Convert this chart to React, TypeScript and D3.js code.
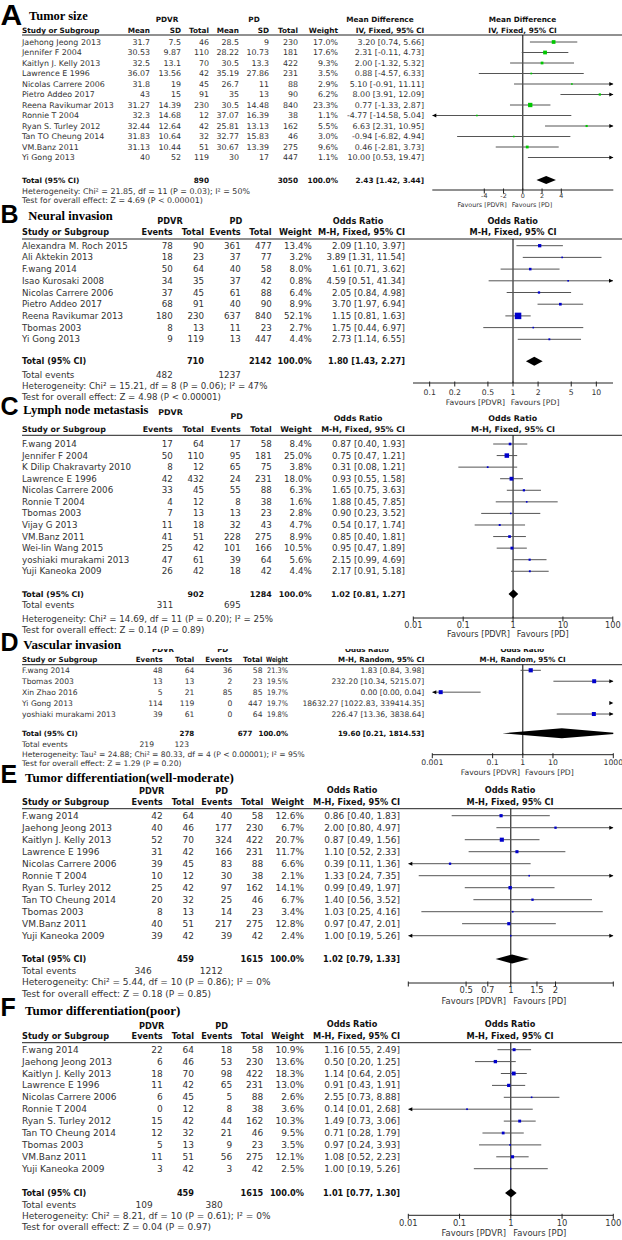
import React from 'react';
import * as d3 from 'd3';

const FONT = "'DejaVu Sans', Verdana, sans-serif";
const SERIF = "'Liberation Serif', 'Times New Roman', serif";
const HEAVY = "'Liberation Sans', Arial, sans-serif";

// ---------------- A: Tumor size (Mean Difference) ----------------
const studiesA = ['Jaehong Jeong 2013', 'Jennifer F 2004', 'Kaitlyn J. Kelly 2013', 'Lawrence E 1996', 'Nicolas Carrere 2006', 'Pietro Addeo 2017', 'Reena Ravikumar 2013', 'Ronnie T 2004', 'Ryan S. Turley 2012', 'Tan TO Cheung 2014', 'VM.Banz 2011', 'Yi Gong 2013'];
const pdvrMeanA = [31.7, 30.53, 32.5, 36.07, 31.8, 43, 31.27, 32.3, 32.44, 31.83, 31.13, 40];
const pdvrSdA = [7.5, 9.87, 13.1, 13.56, 19, 15, 14.39, 14.68, 12.64, 10.64, 10.44, 52];
const pdvrTotalA = [46, 110, 70, 42, 45, 91, 230, 12, 42, 32, 51, 119];
const pdMeanA = [28.5, 28.22, 30.5, 35.19, 26.7, 35, 30.5, 37.07, 25.81, 32.77, 30.67, 30];
const pdSdA = [9, 10.73, 13.3, 27.86, 11, 13, 14.48, 16.39, 13.13, 15.83, 13.39, 17];
const pdTotalA = [230, 181, 422, 231, 88, 90, 840, 38, 162, 46, 275, 447];
const weightA = [17.0, 17.6, 9.3, 3.5, 2.9, 6.2, 23.3, 1.1, 5.5, 3.0, 9.6, 1.1];
const estA = [3.2, 2.31, 2.0, 0.88, 5.1, 8.0, 0.77, -4.77, 6.63, -0.94, 0.46, 10.0];
const loA = [0.74, -0.11, -1.32, -4.57, -0.91, 3.91, -1.33, -14.58, 2.31, -6.82, -2.81, 0.53];
const hiA = [5.66, 4.73, 5.32, 6.33, 11.11, 12.09, 2.87, 5.04, 10.95, 4.94, 3.73, 19.47];
const totalA = [890, 3050];
const pooledA = [2.43, 1.42, 3.44];
const ticksA = [-4, -2, 0, 2, 4];

// ---------------- B: Neural invasion ----------------
const studiesB = ['Alexandra M. Roch 2015', 'Ali Aktekin 2013', 'F.wang 2014', 'Isao Kurosaki 2008', 'Nicolas Carrere 2006', 'Pietro Addeo 2017', 'Reena Ravikumar 2013', 'Tbomas 2003', 'Yi Gong 2013'];
const pdvrEventsB = [78, 18, 50, 34, 37, 68, 180, 8, 9];
const pdvrTotalB = [90, 23, 64, 35, 45, 91, 230, 13, 119];
const pdEventsB = [361, 37, 40, 37, 61, 40, 637, 11, 13];
const pdTotalB = [477, 77, 58, 42, 88, 90, 840, 23, 447];
const weightB = [13.4, 3.2, 8.0, 0.8, 6.4, 8.9, 52.1, 2.7, 4.4];
const estB = [2.09, 3.89, 1.61, 4.59, 2.05, 3.7, 1.15, 1.75, 2.73];
const loB = [1.1, 1.31, 0.71, 0.51, 0.84, 1.97, 0.81, 0.44, 1.14];
const hiB = [3.97, 11.54, 3.62, 41.34, 4.98, 6.94, 1.63, 6.97, 6.55];
const totalB = [710, 2142];
const eventsB = [482, 1237];
const pooledB = [1.8, 1.43, 2.27];
const ticksB = [0.1, 0.2, 0.5, 1, 2, 5, 10];

// ---------------- C: Lymph node metastasis ----------------
const studiesC = ['F.wang 2014', 'Jennifer F 2004', 'K Dilip Chakravarty 2010', 'Lawrence E 1996', 'Nicolas Carrere 2006', 'Ronnie T 2004', 'Tbomas 2003', 'Vijay G 2013', 'VM.Banz 2011', 'Wei-lin Wang 2015', 'yoshiaki murakami 2013', 'Yuji Kaneoka 2009'];
const pdvrEventsC = [17, 50, 8, 42, 33, 4, 7, 11, 41, 25, 47, 26];
const pdvrTotalC = [64, 110, 12, 432, 45, 12, 13, 18, 51, 42, 61, 42];
const pdEventsC = [17, 95, 65, 24, 55, 8, 13, 32, 228, 101, 39, 18];
const pdTotalC = [58, 181, 75, 231, 88, 38, 23, 43, 275, 166, 64, 42];
const weightC = [8.4, 25.0, 3.8, 18.0, 6.3, 1.6, 2.8, 4.7, 8.9, 10.5, 5.6, 4.4];
const estC = [0.87, 0.75, 0.31, 0.93, 1.65, 1.88, 0.9, 0.54, 0.85, 0.95, 2.15, 2.17];
const loC = [0.4, 0.47, 0.08, 0.55, 0.75, 0.45, 0.23, 0.17, 0.4, 0.47, 0.99, 0.91];
const hiC = [1.93, 1.21, 1.21, 1.58, 3.63, 7.85, 3.52, 1.74, 1.81, 1.89, 4.69, 5.18];
const totalC = [902, 1284];
const eventsC = [311, 695];
const pooledC = [1.02, 0.81, 1.27];
const ticksC = [0.01, 0.1, 1, 10, 100];

// ---------------- D: Vascular invasion ----------------
const studiesD = ['F.wang 2014', 'Tbomas 2003', 'Xin Zhao 2016', 'Yi Gong 2013', 'yoshiaki murakami 2013'];
const pdvrEventsD = [48, 13, 5, 114, 39];
const pdvrTotalD = [64, 13, 21, 119, 61];
const pdEventsD = [36, 2, 85, 0, 0];
const pdTotalD = [58, 23, 85, 447, 64];
const weightD = [21.3, 19.5, 19.7, 19.7, 19.8];
const estD = [1.83, 232.2, 0.0019, 18632.27, 226.47];
const loD = [0.84, 10.34, 0.0001, 1022.83, 13.36];
const hiD = [3.98, 5215.07, 0.04, 339414.35, 3838.64];
const totalD = [278, 677];
const eventsD = [219, 123];
const pooledD = [19.6, 0.21, 1814.53];
const ticksD = [0.001, 0.1, 1, 10, 1000];

// ---------------- E: Tumor differentiation (well-moderate) ----------------
const studiesE = ['F.wang 2014', 'Jaehong Jeong 2013', 'Kaitlyn J. Kelly 2013', 'Lawrence E 1996', 'Nicolas Carrere 2006', 'Ronnie T 2004', 'Ryan S. Turley 2012', 'Tan TO Cheung 2014', 'Tbomas 2003', 'VM.Banz 2011', 'Yuji Kaneoka 2009'];
const pdvrEventsE = [42, 40, 52, 31, 39, 10, 25, 20, 8, 40, 39];
const pdvrTotalE = [64, 46, 70, 42, 45, 12, 42, 32, 13, 51, 42];
const pdEventsE = [40, 177, 324, 166, 83, 30, 97, 25, 14, 217, 39];
const pdTotalE = [58, 230, 422, 231, 88, 38, 162, 46, 23, 275, 42];
const weightE = [12.6, 6.7, 20.7, 11.7, 6.6, 2.1, 14.1, 6.7, 3.4, 12.8, 2.4];
const estE = [0.86, 2.0, 0.87, 1.1, 0.39, 1.33, 0.99, 1.4, 1.03, 0.97, 1.0];
const loE = [0.4, 0.8, 0.49, 0.52, 0.11, 0.24, 0.49, 0.56, 0.25, 0.47, 0.19];
const hiE = [1.83, 4.97, 1.56, 2.33, 1.36, 7.35, 1.97, 3.52, 4.16, 2.01, 5.26];
const totalE = [459, 1615];
const eventsE = [346, 1212];
const pooledE = [1.02, 0.79, 1.33];
const ticksE = [0.5, 0.7, 1, 1.5, 2];

// ---------------- F: Tumor differentiation (poor) ----------------
const studiesF = ['F.wang 2014', 'Jaehong Jeong 2013', 'Kaitlyn J. Kelly 2013', 'Lawrence E 1996', 'Nicolas Carrere 2006', 'Ronnie T 2004', 'Ryan S. Turley 2012', 'Tan TO Cheung 2014', 'Tbomas 2003', 'VM.Banz 2011', 'Yuji Kaneoka 2009'];
const pdvrEventsF = [22, 6, 18, 11, 6, 0, 15, 12, 5, 11, 3];
const pdvrTotalF = [64, 46, 70, 42, 45, 12, 42, 32, 13, 51, 42];
const pdEventsF = [18, 53, 98, 65, 5, 8, 44, 21, 9, 56, 3];
const pdTotalF = [58, 230, 422, 231, 88, 38, 162, 46, 23, 275, 42];
const weightF = [10.9, 13.6, 18.3, 13.0, 2.6, 3.6, 10.3, 9.5, 3.5, 12.1, 2.5];
const estF = [1.16, 0.5, 1.14, 0.91, 2.55, 0.14, 1.49, 0.71, 0.97, 1.08, 1.0];
const loF = [0.55, 0.2, 0.64, 0.43, 0.73, 0.01, 0.73, 0.28, 0.24, 0.52, 0.19];
const hiF = [2.49, 1.25, 2.05, 1.91, 8.88, 2.68, 3.06, 1.79, 3.93, 2.23, 5.26];
const totalF = [459, 1615];
const eventsF = [109, 380];
const pooledF = [1.01, 0.77, 1.3];
const ticksF = [0.01, 0.1, 1, 10, 100];

type Anchor = 'start' | 'middle' | 'end';
type Lbl = [string, number, number, Anchor];
type ColLbl = [string, number, Anchor, number?];

interface Cfg {
  letter: string; letterSize: number; letterY: number;
  title: string; titleX: number; titleY: number; titleSize: number;
  fs: number; fb: number; afs: number;
  groups: Lbl[]; groupClip?: number;
  colY: number; cols: ColLbl[];
  lineY: number; rowY0: number; rowStep: number;
  names: string[]; cells: number[][]; cellX: number[];
  weights: number[]; weightX: number; weightLen?: number; ciX: number;
  est: number[]; lo: number[]; hi: number[];
  totalY: number; totals: number[]; totalX: number[]; pooled: number[];
  eventsY?: number; events?: number[]; eventsX?: number[];
  hetY: number; het: string; testY: number; test: string;
  log: boolean; domain: [number, number]; range: [number, number];
  ticks: number[]; endTicks?: boolean;
  axisY: number; tickY: number; favY: number; favL: number; favR: number;
  color: string; dh: number;
}

const f2 = (v: number) => v.toFixed(2);
const ciText = (e: number, l: number, h: number) => `${f2(e)} [${f2(l)}, ${f2(h)}]`;

function Panel({ c }: { c: Cfg }) {
  const scale: any = c.log
    ? d3.scaleLog().domain(c.domain).range(c.range)
    : d3.scaleLinear().domain(c.domain).range(c.range);
  const [d0, d1] = c.domain;
  const [x0, x1] = c.range;
  const ref = scale(c.log ? 1 : 0);
  const clipId = `clip${c.letter}`;
  const gclip = `gclip${c.letter}`;
  const T = (txt: string, x: number, y: number, anchor: Anchor, bold = false, size?: number, len?: number) => (
    <text x={x} y={y} textAnchor={anchor} dominantBaseline="central" fontFamily={FONT}
      fontSize={size ?? (bold ? c.fb : c.fs)} fontWeight={bold ? 'bold' : 'normal'}
      fill={bold ? '#111' : '#333'}
      textLength={len} lengthAdjust={len ? 'spacingAndGlyphs' : undefined}>{txt}</text>
  );
  const ry = (i: number) => c.rowY0 + i * c.rowStep;
  const eps = 1e-9;
  const [pe, pl, ph] = c.pooled;
  const dy = c.dh / 2;
  return (
    <g>
      <defs>
        <clipPath id={clipId}><rect x={x0} y={c.lineY} width={x1 - x0} height={c.axisY - c.lineY + 6} /></clipPath>
        {c.groupClip !== undefined && (
          <clipPath id={gclip}><rect x={0} y={c.groupClip} width={622} height={12} /></clipPath>
        )}
      </defs>
      <text x={0.5} y={c.letterY} fontFamily={HEAVY} fontWeight="bold" fontSize={c.letterSize} fill="#000">{c.letter}</text>
      <text x={c.titleX} y={c.titleY} fontFamily={SERIF} fontWeight="bold" fontSize={c.titleSize} fill="#000">{c.title}</text>
      <g clipPath={c.groupClip !== undefined ? `url(#${gclip})` : undefined}>
        {c.groups.map(([t, x, y, a], i) => <g key={i}>{T(t, x, y, a, true)}</g>)}
      </g>
      {c.cols.map(([t, x, a, len], i) => <g key={i}>{T(t, x, c.colY, a, true, undefined, len)}</g>)}
      <line x1={22} x2={622} y1={c.lineY} y2={c.lineY} stroke="#222" strokeWidth={1} />
      {c.names.map((n, i) => (
        <g key={n + i}>
          {T(n, 22, ry(i), 'start')}
          {c.cells.map((col, j) => <g key={j}>{T(String(col[i]), c.cellX[j], ry(i), 'end')}</g>)}
          {T(c.weights[i].toFixed(1) + '%', c.weightX, ry(i), 'end', false, undefined, c.weightLen)}
          {T(ciText(c.est[i], c.lo[i], c.hi[i]), c.ciX, ry(i), 'end')}
        </g>
      ))}
      {T('Total (95% CI)', 22, c.totalY, 'start', true)}
      {c.totals.map((v, j) => <g key={j}>{T(String(v), c.totalX[j], c.totalY, 'end', true)}</g>)}
      {T('100.0%', c.weightX, c.totalY, 'end', true)}
      {T(ciText(pe, pl, ph), c.ciX, c.totalY, 'end', true)}
      {c.events && c.eventsX && c.eventsY !== undefined && (
        <g>
          {T('Total events', 22, c.eventsY, 'start')}
          {c.events.map((v, j) => <g key={j}>{T(String(v), c.eventsX![j], c.eventsY!, 'end')}</g>)}
        </g>
      )}
      {T(c.het, 22, c.hetY, 'start')}
      {T(c.test, 22, c.testY, 'start')}

      {/* plot */}
      <line x1={ref} x2={ref} y1={c.lineY} y2={c.axisY} stroke="#000" strokeWidth={1} />
      <g clipPath={`url(#${clipId})`}>
        {c.names.map((n, i) => {
          const y = ry(i);
          const l = Math.max(c.lo[i], d0);
          const h = Math.min(c.hi[i], d1);
          const s = Math.max(1.6, 0.9 * Math.sqrt(c.weights[i]));
          const e = c.est[i];
          return (
            <g key={i}>
              {l < h && <line x1={scale(l)} x2={scale(h)} y1={y} y2={y} stroke="#555" strokeWidth={1} />}
              {e > d0 && e < d1 && <rect x={scale(e) - s / 2} y={y - s / 2} width={s} height={s} fill={c.color} />}
            </g>
          );
        })}
        <polygon
          points={[[scale(Math.max(pl, d0 / 10)), c.totalY], [scale(pe), c.totalY - dy], [scale(Math.min(ph, d1 * 10)), c.totalY], [scale(pe), c.totalY + dy]].map(p => p.join(',')).join(' ')}
          fill="#000" />
      </g>
      {c.names.map((n, i) => {
        const y = ry(i);
        return (
          <g key={'a' + i}>
            {c.lo[i] <= d0 + eps && <path d={`M${x0},${y}L${x0 + 4},${y - 2}L${x0 + 4},${y + 2}Z`} fill="#000" />}
            {c.hi[i] > d1 && <path d={`M${x1},${y}L${x1 - 4},${y - 2}L${x1 - 4},${y + 2}Z`} fill="#000" />}
          </g>
        );
      })}
      <line x1={x0} x2={x1} y1={c.axisY} y2={c.axisY} stroke="#222" strokeWidth={1} />
      {c.endTicks && [x0, x1].map((x, i) => <line key={'e' + i} x1={x} x2={x} y1={c.axisY - 1.5} y2={c.axisY + 3.5} stroke="#222" />)}
      {c.ticks.map((t, i) => (
        <g key={'t' + i}>
          <line x1={scale(t)} x2={scale(t)} y1={c.axisY - 1.5} y2={c.axisY + 3.5} stroke="#222" strokeWidth={1} />
          {T(String(t), scale(t), c.tickY, 'middle', false, c.afs)}
        </g>
      ))}
      {T('Favours [PDVR]', c.favL, c.favY, 'end', false, c.afs)}
      {T('Favours [PD]', c.favR, c.favY, 'start', false, c.afs)}
    </g>
  );
}

const evCols = (pdvrE: number[], pdvrT: number[], pdE: number[], pdT: number[]) => [pdvrE, pdvrT, pdE, pdT];

const panels: Cfg[] = [
  {
    letter: 'A', letterSize: 30, letterY: 25, title: 'Tumor size', titleX: 29, titleY: 19.5, titleSize: 12.5,
    fs: 7.9, fb: 7.3, afs: 6.4,
    groups: [['PDVR', 167, 19, 'middle'], ['PD', 254, 19, 'middle'], ['Mean Difference', 380, 19, 'middle'], ['Mean Difference', 522.5, 19, 'middle']],
    colY: 30,
    cols: [['Study or Subgroup', 22, 'start'], ['Mean', 150, 'end'], ['SD', 181, 'end'], ['Total', 209, 'end'], ['Mean', 239, 'end'], ['SD', 269, 'end'], ['Total', 298, 'end'], ['Weight', 338, 'end'], ['IV, Fixed, 95% CI', 390, 'middle'], ['IV, Fixed, 95% CI', 522.5, 'middle']],
    lineY: 35, rowY0: 42, rowStep: 10.5,
    names: studiesA, cells: [pdvrMeanA, pdvrSdA, pdvrTotalA, pdMeanA, pdSdA, pdTotalA], cellX: [150, 181, 209, 239, 269, 298],
    weights: weightA, weightX: 338, ciX: 424, est: estA, lo: loA, hi: hiA,
    totalY: 180, totals: totalA, totalX: [209, 298], pooled: pooledA,
    hetY: 191, het: 'Heterogeneity: Chi² = 21.85, df = 11 (P = 0.03); I² = 50%',
    testY: 200.7, test: 'Test for overall effect: Z = 4.69 (P < 0.00001)',
    log: false, domain: [-9.4, 9.4], range: [432.3, 613.3], ticks: ticksA,
    axisY: 190, tickY: 195.5, favY: 205, favL: 506.7, favR: 511.7, color: '#00c800', dh: 8,
  },
  {
    letter: 'B', letterSize: 25, letterY: 223, title: 'Neural invasion', titleX: 28.3, titleY: 219.5, titleSize: 12.5,
    fs: 8.7, fb: 8.2, afs: 7.7,
    groups: [['PDVR', 170, 221, 'middle'], ['PD', 236, 221, 'middle'], ['Odds Ratio', 358, 221, 'middle'], ['Odds Ratio', 512.7, 221, 'middle']],
    colY: 232.3,
    cols: [['Study or Subgroup', 22, 'start'], ['Events', 172.7, 'end'], ['Total', 204, 'end'], ['Events', 240.7, 'end'], ['Total', 271.7, 'end'], ['Weight', 311.7, 'end'], ['M-H, Fixed, 95% CI', 405, 'end'], ['M-H, Fixed, 95% CI', 513, 'middle']],
    lineY: 239, rowY0: 245.7, rowStep: 11.7,
    names: studiesB, cells: evCols(pdvrEventsB, pdvrTotalB, pdEventsB, pdTotalB), cellX: [172.7, 204, 240.7, 271.7],
    weights: weightB, weightX: 311.7, ciX: 405, est: estB, lo: loB, hi: hiB,
    totalY: 361.3, totals: totalB, totalX: [204, 271.7], pooled: pooledB,
    eventsY: 374.7, events: eventsB, eventsX: [172.7, 240.7],
    hetY: 385.7, het: 'Heterogeneity: Chi² = 15.21, df = 8 (P = 0.06); I² = 47%',
    testY: 397.2, test: 'Test for overall effect: Z = 4.98 (P < 0.00001)',
    log: true, domain: [1 / 15.85, 15.85], range: [413, 613], ticks: ticksB,
    axisY: 383, tickY: 392, favY: 402.3, favL: 505, favR: 510.7, color: '#0000cc', dh: 9,
  },
  {
    letter: 'C', letterSize: 25, letterY: 414.7, title: 'Lymph node metastasis', titleX: 23.3, titleY: 413.7, titleSize: 12.5,
    fs: 8.7, fb: 7.9, afs: 8.2,
    groups: [['PDVR', 170.5, 412.3, 'middle'], ['PD', 236.7, 416.3, 'middle'], ['Odds Ratio', 358, 418, 'middle'], ['Odds Ratio', 512.7, 418, 'middle']],
    colY: 429.7,
    cols: [['Study or Subgroup', 22, 'start'], ['Events', 172.7, 'end'], ['Total', 204, 'end'], ['Events', 240.7, 'end'], ['Total', 271.7, 'end'], ['Weight', 311.7, 'end'], ['M-H, Fixed, 95% CI', 405, 'end'], ['M-H, Fixed, 95% CI', 513, 'middle']],
    lineY: 435.3, rowY0: 444, rowStep: 11.57,
    names: studiesC, cells: evCols(pdvrEventsC, pdvrTotalC, pdEventsC, pdTotalC), cellX: [172.7, 204, 240.7, 271.7],
    weights: weightC, weightX: 311.7, ciX: 405, est: estC, lo: loC, hi: hiC,
    totalY: 594, totals: totalC, totalX: [204, 271.7], pooled: pooledC,
    eventsY: 605.3, events: eventsC, eventsX: [173.3, 240.7],
    hetY: 619, het: 'Heterogeneity: Chi² = 14.69, df = 11 (P = 0.20); I² = 25%',
    testY: 630.3, test: 'Test for overall effect: Z = 0.14 (P = 0.89)',
    log: true, domain: [0.01, 100], range: [413.3, 612.8], ticks: ticksC,
    axisY: 618, tickY: 624.5, favY: 634, favL: 510, favR: 516.7, color: '#0000cc', dh: 9,
  },
  {
    letter: 'D', letterSize: 25, letterY: 651.3, title: 'Vascular invasion', titleX: 23.3, titleY: 648.7, titleSize: 13,
    fs: 7.6, fb: 7.1, afs: 7.7,
    groups: [['PDVR', 163, 649.7, 'middle'], ['PD', 222.7, 649.7, 'middle'], ['Odds Ratio', 367, 649.2, 'middle'], ['Odds Ratio', 522.3, 649.2, 'middle']],
    groupClip: 649,
    colY: 659,
    cols: [['Study or Subgroup', 22, 'start'], ['Events', 162.7, 'end'], ['Total', 194.3, 'end'], ['Events', 232.3, 'end'], ['Total', 262.5, 'end'], ['Weight', 288, 'end', 22], ['M-H, Random, 95% CI', 424.3, 'end'], ['M-H, Random, 95% CI', 522.5, 'middle']],
    lineY: 664.7, rowY0: 670.3, rowStep: 10.93,
    names: studiesD, cells: evCols(pdvrEventsD, pdvrTotalD, pdEventsD, pdTotalD), cellX: [162.7, 194.3, 232.3, 262.5],
    weights: weightD, weightX: 288, weightLen: 21, ciX: 424.3, est: estD, lo: loD, hi: hiD,
    totalY: 733.3, totals: totalD, totalX: [194.3, 252.5], pooled: pooledD,
    eventsY: 744, events: eventsD, eventsX: [154, 189],
    hetY: 754.7, het: 'Heterogeneity: Tau² = 24.88; Chi² = 80.33, df = 4 (P < 0.00001); I² = 95%',
    testY: 763.7, test: 'Test for overall effect: Z = 1.29 (P = 0.20)',
    log: true, domain: [0.001, 1000], range: [432.3, 613.3], ticks: ticksD,
    axisY: 754.7, tickY: 762, favY: 772, favL: 520, favR: 525, color: '#0000cc', dh: 10,
  },
  {
    letter: 'E', letterSize: 25, letterY: 783, title: 'Tumor differentiation(well-moderate)', titleX: 25, titleY: 782, titleSize: 13,
    fs: 9.0, fb: 8.2, afs: 8.4,
    groups: [['PDVR', 151.7, 791.3, 'middle'], ['PD', 221.7, 791.3, 'middle'], ['Odds Ratio', 352, 790.3, 'middle'], ['Odds Ratio', 510, 790.3, 'middle']],
    colY: 802.3,
    cols: [['Study or Subgroup', 22, 'start'], ['Events', 162.7, 'end'], ['Total', 194, 'end'], ['Events', 232.3, 'end'], ['Total', 263.3, 'end'], ['Weight', 304, 'end'], ['M-H, Fixed, 95% CI', 400, 'end'], ['M-H, Fixed, 95% CI', 510, 'middle']],
    lineY: 808.7, rowY0: 815.7, rowStep: 12.0,
    names: studiesE, cells: evCols(pdvrEventsE, pdvrTotalE, pdEventsE, pdTotalE), cellX: [162.7, 194, 232.3, 263.3],
    weights: weightE, weightX: 304, ciX: 400, est: estE, lo: loE, hi: hiE,
    totalY: 959, totals: totalE, totalX: [194, 263.3], pooled: pooledE,
    eventsY: 971.3, events: eventsE, eventsX: [151.7, 222.7],
    hetY: 982, het: 'Heterogeneity: Chi² = 5.44, df = 10 (P = 0.86); I² = 0%',
    testY: 993.7, test: 'Test for overall effect: Z = 0.18 (P = 0.85)',
    log: true, domain: [Math.pow(10, -0.69), Math.pow(10, 0.69)], range: [408.3, 613.3], ticks: ticksE, endTicks: true,
    axisY: 983, tickY: 989.7, favY: 1000.7, favL: 506, favR: 513.3, color: '#0000cc', dh: 9,
  },
  {
    letter: 'F', letterSize: 25, letterY: 1016.3, title: 'Tumor differentiation(poor)', titleX: 25, titleY: 1015, titleSize: 13,
    fs: 9.0, fb: 8.2, afs: 8.4,
    groups: [['PDVR', 151.7, 1026, 'middle'], ['PD', 221.7, 1026, 'middle'], ['Odds Ratio', 352, 1024.3, 'middle'], ['Odds Ratio', 510, 1024.3, 'middle']],
    colY: 1036.3,
    cols: [['Study or Subgroup', 22, 'start'], ['Events', 162.7, 'end'], ['Total', 194, 'end'], ['Events', 232.3, 'end'], ['Total', 263.3, 'end'], ['Weight', 304, 'end'], ['M-H, Fixed, 95% CI', 400, 'end'], ['M-H, Fixed, 95% CI', 510, 'middle']],
    lineY: 1042.7, rowY0: 1049.7, rowStep: 11.9,
    names: studiesF, cells: evCols(pdvrEventsF, pdvrTotalF, pdEventsF, pdTotalF), cellX: [162.7, 194, 232.3, 263.3],
    weights: weightF, weightX: 304, ciX: 400, est: estF, lo: loF, hi: hiF,
    totalY: 1193, totals: totalF, totalX: [194, 263.3], pooled: pooledF,
    eventsY: 1204.7, events: eventsF, eventsX: [152.7, 222.7],
    hetY: 1216, het: 'Heterogeneity: Chi² = 8.21, df = 10 (P = 0.61); I² = 0%',
    testY: 1227, test: 'Test for overall effect: Z = 0.04 (P = 0.97)',
    log: true, domain: [0.01, 100], range: [408.3, 613.3], ticks: ticksF,
    axisY: 1215.3, tickY: 1222.7, favY: 1233, favL: 506, favR: 513.3, color: '#0000cc', dh: 9,
  },
];

export default function App() {
  return (
    <svg width={622} height={1240} viewBox="0 0 622 1240"
      style={{ position: 'absolute', left: 0, top: 0, background: '#fff' }}>
      <rect x={0} y={0} width={622} height={1240} fill="#fff" />
      {panels.map(p => <Panel key={p.letter} c={p} />)}
    </svg>
  );
}
